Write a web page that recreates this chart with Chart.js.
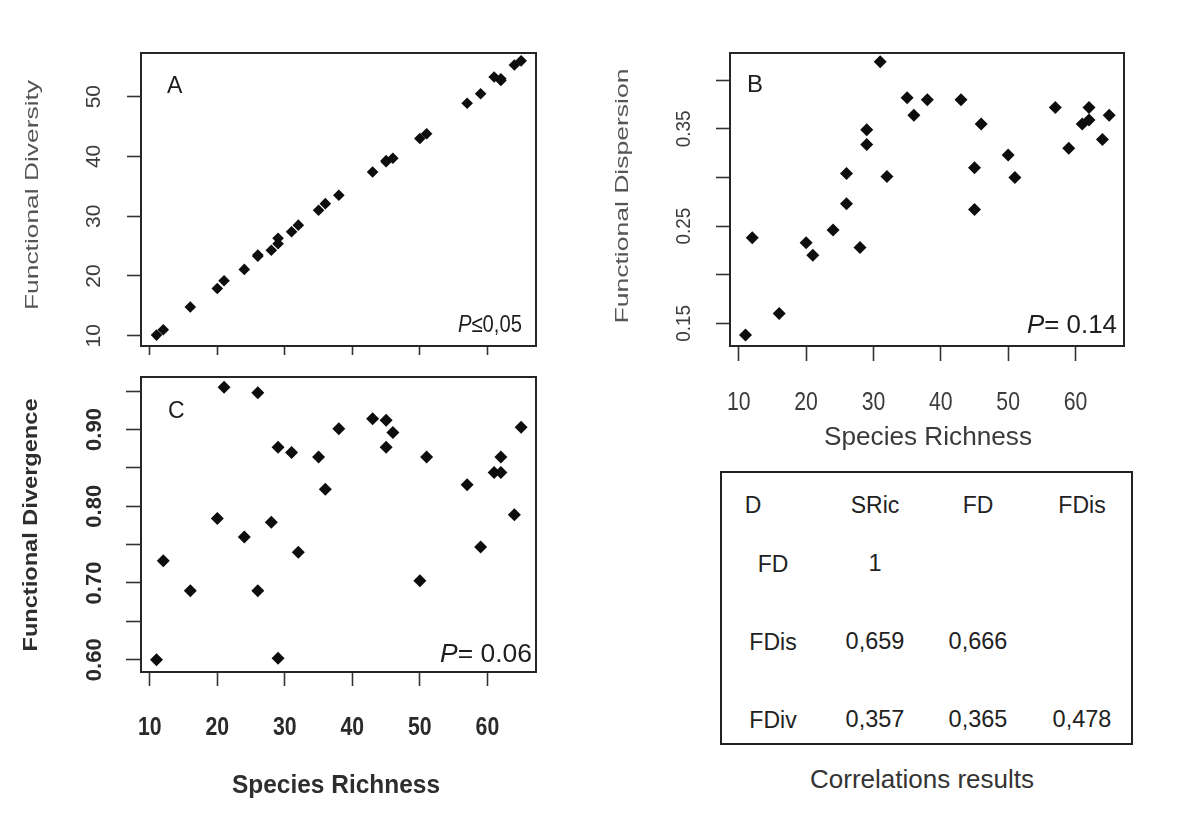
<!DOCTYPE html>
<html><head><meta charset="utf-8">
<script src="https://cdn.jsdelivr.net/npm/chart.js@4"></script>
<style>
html,body{margin:0;padding:0;background:#fff;}
#fig{position:relative;width:1177px;height:821px;background:#fff;overflow:hidden;font-family:"Liberation Sans",Arial,sans-serif;}
.pane{position:absolute;}
.pane canvas{display:block;}
.t{position:absolute;white-space:nowrap;color:#222;line-height:1;transform:translateX(-50%);}
#tbl{position:absolute;border:2px solid #222;box-sizing:border-box;}
</style></head><body>
<div id="fig">
  <div class="pane" style="left:0px;top:40px;width:560px;height:330px"><canvas id="cA" width="560" height="330"></canvas></div>
  <div class="pane" style="left:580px;top:40px;width:597px;height:420px"><canvas id="cB" width="597" height="420"></canvas></div>
  <div class="pane" style="left:0px;top:365px;width:560px;height:456px"><canvas id="cC" width="560" height="456"></canvas></div>
  <div id="tbl" style="left:720px;top:471px;width:413px;height:274px"></div>
</div>
<script>
// ---------------- data ----------------
const speciesRichness      = [11, 12, 16, 20, 21, 24, 26, 26, 28, 29, 29, 31, 32, 35, 36, 38, 43, 45, 45, 46, 50, 51, 57, 59, 61, 62, 62, 64, 65];
const functionalDiversity  = [10.1, 11.0, 14.8, 17.9, 19.2, 21.1, 23.5, 23.3, 24.3, 25.4, 26.3, 27.4, 28.5, 31.0, 32.1, 33.5, 37.4, 39.1, 39.3, 39.7, 43.0, 43.8, 48.9, 50.5, 53.3, 52.7, 53.0, 55.3, 56.0];
const functionalDispersion = [0.138, 0.238, 0.160, 0.233, 0.220, 0.246, 0.273, 0.304, 0.228, 0.349, 0.334, 0.419, 0.301, 0.382, 0.364, 0.380, 0.380, 0.310, 0.267, 0.355, 0.323, 0.300, 0.372, 0.330, 0.355, 0.359, 0.372, 0.339, 0.364];
const functionalDivergence = [0.600, 0.729, 0.690, 0.784, 0.955, 0.760, 0.948, 0.690, 0.779, 0.877, 0.602, 0.870, 0.740, 0.864, 0.822, 0.901, 0.914, 0.912, 0.877, 0.896, 0.703, 0.864, 0.828, 0.747, 0.844, 0.844, 0.864, 0.789, 0.903];

const xTicks   = [10, 20, 30, 40, 50, 60];
const xLabels  = ['10', '20', '30', '40', '50', '60'];
const yTicksA  = [10, 20, 30, 40, 50];
const yLabelsA = ['10', '20', '30', '40', '50'];
const yTicksB  = [0.15, 0.20, 0.25, 0.30, 0.35, 0.40];
const yLabelsB = ['0.15', '', '0.25', '', '0.35', ''];
const yTicksC  = [0.60, 0.65, 0.70, 0.75, 0.80, 0.85, 0.90, 0.95];
const yLabelsC = ['0.60', '', '0.70', '', '0.80', '', '0.90', ''];

const xRange  = [8.7, 67.2];
const yRangeA = [8.28, 57.31];
const yRangeB = [0.1267, 0.428];
const yRangeC = [0.584, 0.9684];

const panelLetters = ['A', 'B', 'C'];
const pValues = [['P', '\u22640,05'], ['P', '= 0.14'], ['P', '= 0.06']];
const yTitles = ['Functional Diversity', 'Functional Dispersion', 'Functional Divergence'];
const xTitle  = 'Species Richness';

const tableLetter = 'D';
const tableCols = ['SRic', 'FD', 'FDis'];
const tableRows = ['FD', 'FDis', 'FDiv'];
const tableValues = [
  ['1', '', ''],
  ['0,659', '0,666', ''],
  ['0,357', '0,365', '0,478']
];
const tableCaption = 'Correlations results';

// ---------------- drawing helpers ----------------
const FONT = '"Liberation Sans", Arial, sans-serif';
function drawTxt(ctx, parts, x, y, o) {
  ctx.save();
  const fontOf = p => `${p.italic ? 'italic ' : ''}${o.weight || 'normal'} ${o.size}px ${FONT}`;
  let W = 0;
  const ws = parts.map(p => { ctx.font = fontOf(p); const w = ctx.measureText(p.t).width; W += w; return w; });
  const sx = o.width ? o.width / W : (o.sx || 1);
  ctx.translate(x, y);
  if (o.rot) ctx.rotate(o.rot);
  ctx.scale(sx, 1);
  let start = o.align === 'center' ? -W / 2 : (o.align === 'right' ? -W : 0);
  ctx.fillStyle = o.color || '#222';
  ctx.textAlign = 'left';
  ctx.textBaseline = 'alphabetic';
  const dy = o.mid ? 0.358 * o.size : 0;
  parts.forEach((p, i) => { ctx.font = fontOf(p); ctx.fillText(p.t, start, dy); start += ws[i]; });
  ctx.restore();
}

function panelPlugin(cfg) {
  return {
    id: 'panel' + cfg.letter,
    afterDraw(chart) {
      const ctx = chart.ctx, a = chart.chartArea;
      const ox = cfg.off[0], oy = cfg.off[1];
      ctx.save();
      ctx.strokeStyle = '#262626';
      ctx.lineWidth = 2;
      ctx.strokeRect(Math.round(a.left), Math.round(a.top), Math.round(a.right - a.left), Math.round(a.bottom - a.top));
      ctx.restore();
      const xs = chart.scales.x, ys = chart.scales.y;
      cfg.yTicks.forEach((v, i) => {
        const lab = cfg.yLabels[i];
        if (!lab) return;
        drawTxt(ctx, [{t: lab}], cfg.yLabX - ox, ys.getPixelForValue(v), {size: cfg.yLabSize, weight: cfg.tickWeight, color: cfg.tickColor, rot: -Math.PI / 2, align: 'center', mid: true, sx: cfg.yLabSx});
      });
      if (cfg.xLabY) {
        xTicks.forEach((v, i) => {
          drawTxt(ctx, [{t: xLabels[i]}], xs.getPixelForValue(v), cfg.xLabY - oy, {size: cfg.xLabSize, weight: cfg.tickWeight, color: cfg.tickColor, align: 'center', sx: cfg.xLabSx});
        });
      }
      const yt = cfg.yTitle;
      drawTxt(ctx, [{t: yt.text}], yt.x - ox, yt.y - oy, {size: yt.size, weight: yt.weight, color: yt.color, rot: -Math.PI / 2, align: 'center', width: yt.width});
      if (cfg.xTitle) {
        const xt = cfg.xTitle;
        drawTxt(ctx, [{t: xt.text}], xt.x - ox, xt.y - oy, {size: xt.size, weight: xt.weight, color: xt.color, align: 'center', width: xt.width});
      }
      drawTxt(ctx, [{t: cfg.letter}], cfg.letterPos[0] - ox, cfg.letterPos[1] - oy, {size: cfg.letterSize, color: '#1e1e1e'});
      const pv = cfg.p;
      drawTxt(ctx, [{t: pv.parts[0], italic: true}, {t: pv.parts[1]}], pv.x - ox, pv.y - oy, {size: pv.size, color: '#1e1e1e', align: 'right', width: pv.width});
    }
  };
}

function makePanel(cfg) {
  const [ox, oy] = cfg.off, [w, h] = cfg.size, [bl, bt, br, bb] = cfg.box;
  const pts = speciesRichness.map((x, i) => ({x: x, y: cfg.yData[i]}));
  return new Chart(document.getElementById(cfg.canvas), {
    type: 'scatter',
    data: {datasets: [{data: pts, pointStyle: 'rectRot', pointRadius: cfg.radius, pointHoverRadius: cfg.radius,
      backgroundColor: '#0d0d0d', borderWidth: 0, clip: false}]},
    options: {
      responsive: false, animation: false, devicePixelRatio: 1, events: [],
      layout: {padding: {left: 0, top: bt - oy, right: ox + w - br, bottom: 0}},
      plugins: {legend: {display: false}, tooltip: {enabled: false}, title: {display: false}},
      scales: {
        x: {type: 'linear', position: 'bottom', min: xRange[0], max: xRange[1],
          afterBuildTicks: s => { s.ticks = xTicks.map(v => ({value: v})); },
          afterFit: s => { s.height = oy + h - bb; },
          ticks: {display: false},
          grid: {drawOnChartArea: false, drawTicks: true, tickLength: cfg.xTickLen, tickWidth: 1.6, tickColor: '#333'},
          border: {display: false}},
        y: {type: 'linear', position: 'left', min: cfg.yRange[0], max: cfg.yRange[1],
          afterBuildTicks: s => { s.ticks = cfg.yTicks.map(v => ({value: v})); },
          afterFit: s => { s.width = bl - ox; },
          ticks: {display: false},
          grid: {drawOnChartArea: false, drawTicks: true, tickLength: cfg.yTickLen, tickWidth: 1.6, tickColor: '#333'},
          border: {display: false}}
      }
    },
    plugins: [panelPlugin(cfg)]
  });
}

makePanel({
  canvas: 'cA', letter: panelLetters[0], off: [0, 40], size: [560, 330], box: [141, 53, 536, 346],
  yData: functionalDiversity, yRange: yRangeA, yTicks: yTicksA, yLabels: yLabelsA,
  radius: 5.8, xTickLen: 9, yTickLen: 14,
  yLabX: 92.5, yLabSize: 21, yLabSx: 1, tickWeight: 'normal', tickColor: '#3c3c3c',
  yTitle: {text: yTitles[0], x: 38, y: 195, size: 18, width: 230, color: '#555', weight: 'normal'},
  letterPos: [167, 93], letterSize: 23,
  p: {parts: pValues[0], x: 522, y: 332, size: 24, width: 64}
});

makePanel({
  canvas: 'cB', letter: panelLetters[1], off: [580, 40], size: [597, 420], box: [730, 53, 1124, 346],
  yData: functionalDispersion, yRange: yRangeB, yTicks: yTicksB, yLabels: yLabelsB,
  radius: 6.5, xTickLen: 15, yTickLen: 14,
  yLabX: 682.5, yLabSize: 21, yLabSx: 0.9, tickWeight: 'normal', tickColor: '#3c3c3c',
  xLabY: 410, xLabSize: 25, xLabSx: 0.85,
  yTitle: {text: yTitles[1], x: 628, y: 196, size: 18, width: 255, color: '#555', weight: 'normal'},
  xTitle: {text: xTitle, x: 928, y: 445, size: 25, width: 208, color: '#3a3a3a', weight: 'normal'},
  letterPos: [747, 92], letterSize: 24,
  p: {parts: pValues[1], x: 1117, y: 333, size: 25, width: 90}
});

makePanel({
  canvas: 'cC', letter: panelLetters[2], off: [0, 365], size: [560, 456], box: [141, 377, 536, 672],
  yData: functionalDivergence, yRange: yRangeC, yTicks: yTicksC, yLabels: yLabelsC,
  radius: 6.5, xTickLen: 14, yTickLen: 15,
  yLabX: 93.3, yLabSize: 22, yLabSx: 1, tickWeight: 'bold', tickColor: '#2a2a2a',
  xLabY: 735, xLabSize: 25, xLabSx: 0.85,
  yTitle: {text: yTitles[2], x: 37, y: 525, size: 21, width: 253, color: '#2e2e2e', weight: 'bold'},
  xTitle: {text: xTitle, x: 336, y: 793, size: 25, width: 208, color: '#2e2e2e', weight: 'bold'},
  letterPos: [168, 418], letterSize: 23,
  p: {parts: pValues[2], x: 532, y: 662, size: 25, width: 92}
});

// ---------------- correlation table (panel D) ----------------
const fig = document.getElementById('fig');
function addText(str, cx, baseline, size, extra) {
  const d = document.createElement('div');
  d.className = 't';
  d.textContent = str;
  d.style.fontSize = size + 'px';
  d.style.left = cx + 'px';
  d.style.top = (baseline - 0.8465 * size) + 'px';
  if (extra) Object.assign(d.style, extra);
  fig.appendChild(d);
}
const colX = [875, 978, 1082];
const rowLabelX = 773;
const headerY = 513;
const rowY = [572, 650, 728];
addText(tableLetter, 753, headerY, 23);
tableCols.forEach((c, i) => addText(c, colX[i], headerY, 23));
tableRows.forEach((r, j) => {
  addText(r, rowLabelX, rowY[j], 23);
  tableValues[j].forEach((v, i) => { if (v) addText(v, colX[i], rowY[j], 23.5); });
});
addText(tableCaption, 922, 788, 26, {color: '#333'});
</script>
</body></html>
